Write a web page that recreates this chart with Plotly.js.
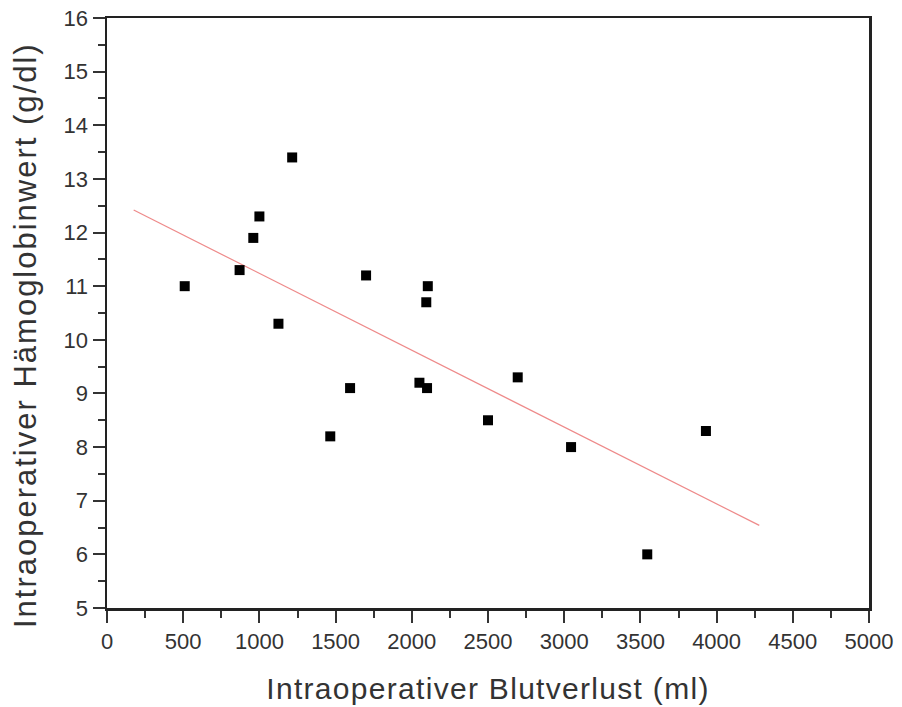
<!DOCTYPE html>
<html>
<head>
<meta charset="utf-8">
<script src="https://cdn.plot.ly/plotly-3.0.1.min.js"></script>
<style>
html,body{margin:0;padding:0;background:#fff;}
#chart{width:902px;height:707px;}
#chart .xtitle{letter-spacing:1.3px;}
#chart .annotation-text{letter-spacing:2px;}
</style>
</head>
<body>
<div id="chart"></div>
<script>
// Data
const bloodLoss = [510, 870, 960, 1000, 1215, 1125, 1465, 1595, 1700, 2050, 2100, 2095, 2105, 2500, 2695, 3045, 3545, 3930];
const hemoglobin = [11.0, 11.3, 11.9, 12.3, 13.4, 10.3, 8.2, 9.1, 11.2, 9.2, 9.1, 10.7, 11.0, 8.5, 9.3, 8.0, 6.0, 8.3];
// Regression line end points
const fitX = [175, 4280];
const fitY = [12.42, 6.54];

const xTitle = 'Intraoperativer Blutverlust (ml)';
const yTitle = 'Intraoperativer Hämoglobinwert (g/dl)';

const font = '"Liberation Sans", Arial, sans-serif';

const traces = [
  {
    x: fitX, y: fitY, type: 'scatter', mode: 'lines',
    line: {color: '#ee8a8a', width: 1.2},
    hoverinfo: 'skip'
  },
  {
    x: bloodLoss, y: hemoglobin, type: 'scatter', mode: 'markers',
    marker: {symbol: 'square', size: 10, color: '#000'}
  }
];

const axisCommon = {
  showgrid: false, zeroline: false,
  showline: true, mirror: true, linecolor: '#222', linewidth: 2.5,
  ticks: 'outside', ticklen: 12, tickwidth: 2, tickcolor: '#333',
  tickfont: {family: font, size: 22, color: '#333'}
};

const layout = {
  width: 902, height: 707,
  margin: {l: 107, r: 33, t: 18, b: 99},
  paper_bgcolor: '#fff', plot_bgcolor: '#fff',
  showlegend: false,
  xaxis: Object.assign({}, axisCommon, {
    range: [0, 5000], dtick: 500, tick0: 0,
    minor: {dtick: 250, ticklen: 7, tickwidth: 2, tickcolor: '#333', ticks: 'outside'},
    title: {text: xTitle, font: {family: font, size: 30, color: '#333'}, standoff: 25}
  }),
  yaxis: Object.assign({}, axisCommon, {
    range: [5, 16], dtick: 1, tick0: 5,
    minor: {dtick: 0.5, ticklen: 7, tickwidth: 2, tickcolor: '#333', ticks: 'outside'}
  }),
  annotations: [{
    text: yTitle, textangle: -90, showarrow: false,
    xref: 'paper', yref: 'paper', x: -0.106, y: 0.463,
    xanchor: 'center', yanchor: 'middle',
    font: {family: font, size: 31, color: '#333'}
  }]
};

Plotly.newPlot('chart', traces, layout, {displayModeBar: false, staticPlot: true});
</script>
</body>
</html>
